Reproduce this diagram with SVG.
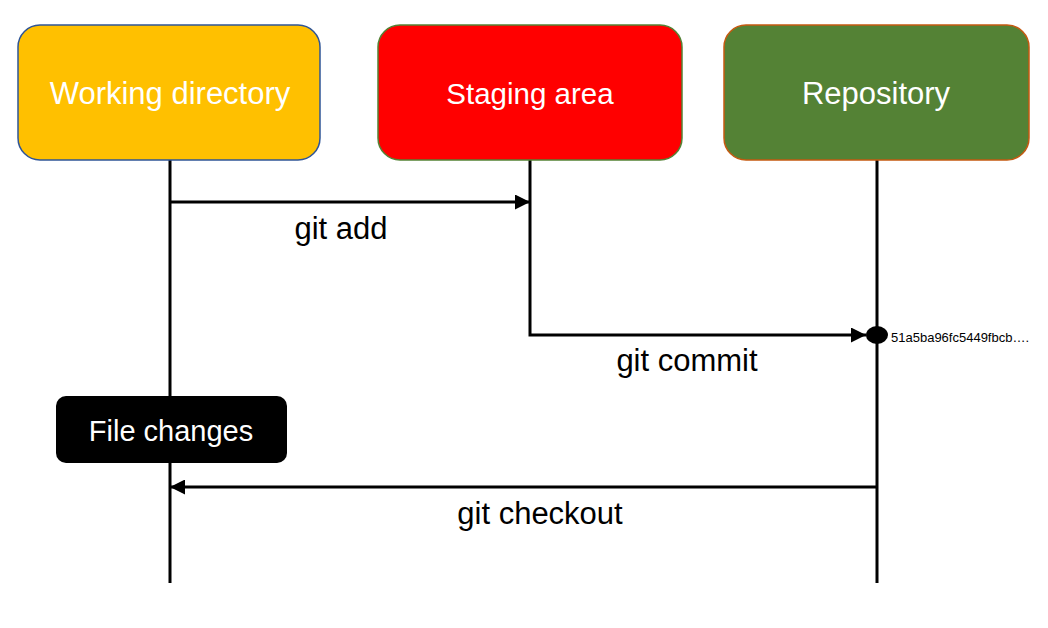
<svg xmlns="http://www.w3.org/2000/svg" width="1048" height="628" viewBox="0 0 1048 628">
<style>
.box{stroke-width:1.5}
.lbl{font-family:"Liberation Sans","Open Sans",sans-serif;font-size:31px;fill:#fff;text-anchor:middle}
.txt{font-family:"Liberation Sans","Open Sans",sans-serif;font-size:31px;fill:#000;text-anchor:middle}
.ln{stroke:#000;stroke-width:3;fill:none}
</style>
<defs>
<marker id="ah" markerWidth="15" markerHeight="15" viewBox="0 0 15 15" refX="15" refY="7.5" orient="auto" markerUnits="userSpaceOnUse">
<path d="M0,0 L15,7.5 L0,15 Z" fill="#000"/>
</marker>
</defs>
<rect width="1048" height="628" fill="#fff"/>
<g id="lifelines">
<line class="ln" x1="170" y1="160" x2="170" y2="583"/>
<line class="ln" x1="530" y1="160" x2="530" y2="202"/>
<line class="ln" x1="877" y1="160" x2="877" y2="583"/>
</g>
<g id="working-directory">
<rect class="box" x="18" y="25" width="302" height="135" rx="22" fill="#FFC000" stroke="#2F5597"/>
<text class="lbl" x="170" y="104">Working directory</text>
</g>
<g id="staging-area">
<rect class="box" x="378" y="25" width="304" height="135" rx="22" fill="#FF0000" stroke="#548235"/>
<text class="lbl" x="530" y="104" style="font-size:29.5px">Staging area</text>
</g>
<g id="repository">
<rect class="box" x="724" y="25" width="305" height="135" rx="22" fill="#548235" stroke="#C55A11"/>
<text class="lbl" x="876" y="104">Repository</text>
</g>
<g id="file-changes">
<rect x="56" y="396" width="231" height="67" rx="10" fill="#000"/>
<text class="lbl" x="171" y="441" style="font-size:29px">File changes</text>
</g>
<g id="connectors">
<line class="ln" x1="170" y1="202" x2="530" y2="202" marker-end="url(#ah)"/>
<text class="txt" x="341" y="239">git add</text>
<path class="ln" d="M530,202 L530,335 L866,335" marker-end="url(#ah)"/>
<text class="txt" x="687" y="371">git commit</text>
<line class="ln" x1="877" y1="487" x2="170" y2="487" marker-end="url(#ah)"/>
<text class="txt" x="540" y="524">git checkout</text>
</g>
<g id="commit">
<ellipse cx="877" cy="335" rx="11" ry="9" fill="#000"/>
<text x="891" y="342" font-family="Liberation Sans, Open Sans, sans-serif" font-size="13" fill="#000">51a5ba96fc5449fbcb….</text>
</g>
</svg>
